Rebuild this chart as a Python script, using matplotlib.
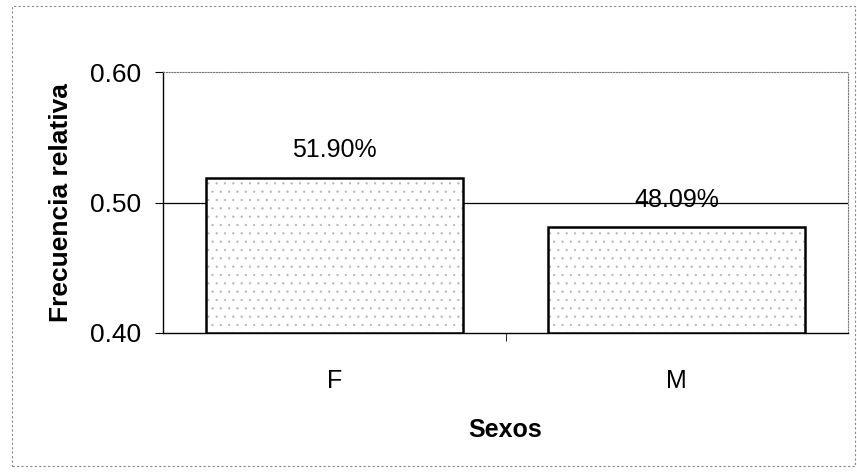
import matplotlib.pyplot as plt
from matplotlib.patches import Rectangle

categories = ['F', 'M']
values = [0.519, 0.4809]
labels = ['51.90%', '48.09%']
yticks = [0.40, 0.50, 0.60]

plt.rcParams['font.family'] = ['Liberation Sans', 'DejaVu Sans']
plt.rcParams['hatch.linewidth'] = 0.4

fig = plt.figure(figsize=(8.57, 4.72), dpi=100)
ax = fig.add_axes([163 / 857, 1 - 333 / 472, 685 / 857, 261 / 472])

x = range(len(categories))
heights = [v - 0.40 for v in values]
# dotted fill, then the black outline on top
ax.bar(x, heights, bottom=0.40, width=0.75, facecolor='white',
       edgecolor='#b5b5b5', linewidth=0, hatch='..', zorder=3)
ax.bar(x, heights, bottom=0.40, width=0.75, fill=False,
       edgecolor='black', linewidth=1.8, zorder=3)

for i, (v, lab) in enumerate(zip(values, labels)):
    ax.text(i, v + 0.012, lab, ha='center', va='bottom', fontsize=18, zorder=4)

ax.axhline(0.50, color='black', linewidth=0.9, zorder=2)

ax.set_xlim(-0.5, 1.5)
ax.set_ylim(0.40, 0.60)
ax.set_yticks(yticks)
ax.set_yticklabels(['%.2f' % t for t in yticks], fontsize=19)
ax.set_xticks(list(x))
ax.set_xticklabels(categories, fontsize=18)
ax.tick_params(axis='x', length=0, pad=26)
ax.set_xticks([0.5], minor=True)
ax.tick_params(axis='x', which='minor', length=6, direction='out')
ax.tick_params(axis='y', length=6, direction='out', pad=10)

ax.spines['left'].set_linewidth(1.0)
ax.spines['bottom'].set_linewidth(1.0)
for s in ['top', 'right']:
    ax.spines[s].set_linestyle((0, (1, 1.5)))
    ax.spines[s].set_color('#777777')
    ax.spines[s].set_linewidth(0.8)

ax.set_ylabel('Frecuencia relativa', fontsize=19, fontweight='bold', labelpad=12)
ax.set_xlabel('Sexos', fontsize=18, fontweight='bold', labelpad=18)

# outer chart border
fig.patches.append(Rectangle((12 / 857, 6 / 472), 843 / 857, 460 / 472,
                             transform=fig.transFigure, fill=False,
                             edgecolor='#888888', linewidth=0.8,
                             linestyle=(0, (2, 2))))

fig.savefig('out.png', dpi=100)
